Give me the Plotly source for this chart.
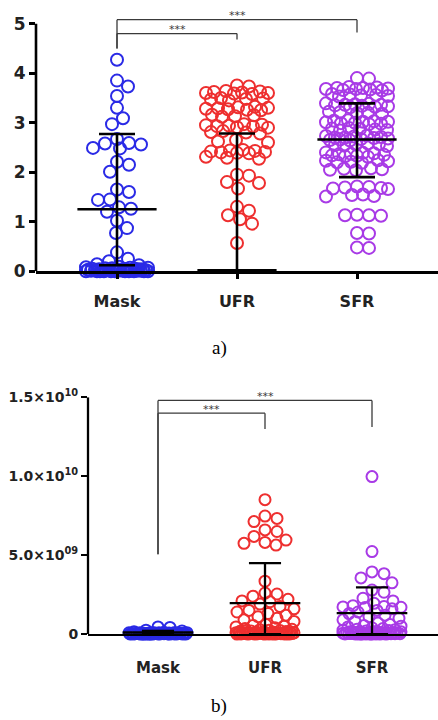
import numpy as np
import plotly.graph_objects as go

W, H = 438, 720

categories = ["Mask", "UFR", "SFR"]
colors = ["#2a2ae6", "#ee2f2f", "#a83ae6"]

# ---------------- panel a) values ----------------
mask_a = [4.27, 3.85, 3.73, 3.54, 3.30, 3.09, 2.97, 2.67, 2.59, 2.58, 2.56, 2.49, 2.48,
          2.21, 2.15, 2.01, 1.65, 1.60, 1.45, 1.44, 1.29, 1.26, 1.20, 1.02, 0.87, 0.77,
          0.38, 0.25, 0.20, 0.14, 0.12, 0.09, 0.08, 0.07, 0.07, 0.06, 0.06, 0.05, 0.05,
          0.05, 0.04, 0.04, 0.04, 0.04, 0.03, 0.03, 0.03, 0.03, 0.03, 0.02, 0.02, 0.02,
          0.02, 0.02, 0.01, 0.01, 0.01, 0.01, 0.01, 0.0, 0.0, 0.0, 0.0, 0.0, 0.0, 0.0,
          0.0, 0.0, 0.0, 0.0]
ufr_a = [3.75, 3.73,
         3.64, 3.63, 3.62, 3.61, 3.60, 3.60, 3.59, 3.58,
         3.50, 3.49, 3.48, 3.47, 3.45,
         3.32, 3.31, 3.30, 3.29, 3.28, 3.27, 3.26, 3.25,
         3.16, 3.15, 3.13, 3.12,
         2.97, 2.96, 2.95, 2.94, 2.93, 2.92, 2.91, 2.90,
         2.83, 2.81, 2.80, 2.78,
         2.65, 2.62, 2.60,
         2.45, 2.44, 2.43, 2.42, 2.41, 2.40, 2.39, 2.38,
         2.31, 2.29, 2.27,
         1.95, 1.93, 1.80, 1.78, 1.67, 1.30, 1.22, 1.13, 1.05, 0.96, 0.57]
sfr_a = [3.90, 3.89,
         3.72, 3.71, 3.70, 3.70, 3.69, 3.68, 3.68, 3.67, 3.66, 3.65,
         3.58, 3.57, 3.56, 3.55, 3.54, 3.53,
         3.39, 3.38, 3.37, 3.36, 3.36, 3.35, 3.34, 3.33, 3.32, 3.31,
         3.22, 3.21, 3.20, 3.19, 3.18,
         3.05, 3.04, 3.03, 3.02, 3.02, 3.01, 3.00, 2.99, 2.98, 2.97,
         2.89, 2.88, 2.87, 2.86, 2.85, 2.84,
         2.74, 2.73, 2.72, 2.71, 2.70, 2.70, 2.69, 2.68, 2.67, 2.66, 2.65, 2.64,
         2.58, 2.57, 2.56, 2.55, 2.54, 2.53,
         2.40, 2.39, 2.38, 2.37, 2.36, 2.35, 2.34, 2.33, 2.32, 2.31,
         2.24, 2.23, 2.22, 2.21, 2.20, 2.19,
         2.08, 2.07, 2.06, 2.05, 2.04,
         1.71, 1.70, 1.69, 1.68, 1.67, 1.66,
         1.55, 1.54, 1.52, 1.51,
         1.14, 1.13, 1.13, 1.12,
         0.77, 0.76,
         0.48, 0.47]
center_a = [1.25, 0.02, 2.66]
upper_a = [2.77, 2.78, 3.39]
lower_a = [0.12, 0.02, 1.90]
yticks_a = [0, 1, 2, 3, 4, 5]
# brackets: (from, to, level, left end, right end)
brackets_a = [(0, 1, 4.80, 4.50, 4.68), (0, 2, 5.08, 4.50, 4.82)]

# ---------------- panel b) values (units of 10^9) ----------------
mask_b = [0.45, 0.42, 0.25, 0.20, 0.15, 0.12, 0.10, 0.10, 0.09, 0.09, 0.08, 0.08, 0.07,
          0.07, 0.06, 0.06, 0.06, 0.05, 0.05, 0.05, 0.04, 0.04, 0.04, 0.04, 0.03, 0.03,
          0.03, 0.03, 0.02, 0.02, 0.02, 0.02, 0.02, 0.01, 0.01, 0.01, 0.01, 0.01, 0.0,
          0.0, 0.0, 0.0, 0.0, 0.0, 0.0, 0.0, 0.0, 0.0]
ufr_b = [8.52, 7.48, 7.33, 7.13, 6.60, 6.50, 6.19, 5.96, 5.81, 5.75, 5.64, 3.35, 2.60,
         2.54, 2.40, 2.20, 2.10, 2.05, 1.90, 1.75, 1.60, 1.50, 1.40, 1.30, 1.20, 1.10,
         1.00, 0.90, 0.80, 0.60, 0.55, 0.50, 0.45, 0.40, 0.35, 0.30, 0.28, 0.25, 0.22,
         0.20, 0.18, 0.16, 0.14, 0.12, 0.11, 0.10, 0.09, 0.09, 0.08, 0.08, 0.07, 0.07,
         0.06, 0.06, 0.05, 0.05, 0.04, 0.04, 0.03, 0.03, 0.03, 0.02, 0.02, 0.02, 0.01,
         0.01, 0.01, 0.0, 0.0, 0.0, 0.0, 0.0, 0.0, 0.0]
sfr_b = [9.98, 5.23, 3.94, 3.83, 3.56, 3.25, 2.79, 2.65, 2.27, 2.10, 1.95, 1.80, 1.75,
         1.72, 1.70, 1.68, 1.60, 1.50, 1.40, 1.30, 1.20, 1.10, 1.00, 0.90, 0.80, 0.70,
         0.60, 0.55, 0.50, 0.45, 0.40, 0.35, 0.30, 0.28, 0.25, 0.22, 0.20, 0.18, 0.16,
         0.14, 0.12, 0.11, 0.10, 0.09, 0.09, 0.08, 0.08, 0.07, 0.07, 0.06, 0.06, 0.05,
         0.05, 0.04, 0.04, 0.03, 0.03, 0.03, 0.02, 0.02, 0.02, 0.01, 0.01, 0.01, 0.0,
         0.0, 0.0, 0.0, 0.0, 0.0, 0.0]
center_b = [0.10, 1.96, 1.33]
upper_b = [0.20, 4.50, 2.96]
lower_b = [0.0, 0.0, 0.0]
yticks_b = [0, 5, 10, 15]
yticktext_b = ["0", "5.0×10<sup>09</sup>", "1.0×10<sup>10</sup>", "1.5×10<sup>10</sup>"]
brackets_b = [(0, 1, 14.0, 5.06, 13.0), (0, 2, 14.81, 5.06, 13.12)]

# ---------------- layout geometry (pixels) ----------------
PA = dict(left=36, right=438, cat0=117, cat2=357, zero=275, ppu=50.2, ymax=5.4, axtop=5)
PB = dict(left=88, right=438, cat0=158, cat2=372, zero=643, ppu=16.0, ymax=15.6, axtop=15)


def swarm(vals, sx, sy, dmin, maxw):
    vals = np.asarray(vals, dtype=float)
    order = np.argsort(-vals, kind="stable")
    cands = [0.0]
    for k in np.arange(1, maxw + 0.01, 1.0):
        cands += [k, -k]
    cands = np.array(cands)
    px, py = [], []
    offs = np.zeros(len(vals))
    for i in order:
        y = vals[i] * sy
        if px:
            P = np.array(px)[None, :]
            Q = np.array(py)[None, :]
            d = np.sqrt((cands[:, None] - P) ** 2 + (y - Q) ** 2).min(axis=1)
            ok = np.where(d >= dmin)[0]
            if len(ok):
                c = cands[ok[0]]
            else:
                c = cands[int(np.argmax(d))]
        else:
            c = 0.0
        offs[i] = c / sx
        px.append(c)
        py.append(y)
    return offs


fig = go.Figure()
layout = dict(width=W, height=H, margin=dict(l=0, r=0, t=0, b=0),
              paper_bgcolor="white", plot_bgcolor="white", showlegend=False)
shapes, annotations = [], []

panels = [
    ("x", "y", PA, [mask_a, ufr_a, sfr_a], center_a, upper_a, lower_a, brackets_a,
     yticks_a, [str(v) for v in yticks_a], 17, 16, 2.6, True, 12, 9, 31),
    ("x2", "y2", PB, [mask_b, ufr_b, sfr_b], center_b, upper_b, lower_b, brackets_b,
     yticks_b, yticktext_b, 14, 15, 2.3, False, 11, 19, 29),
]

for (xa, ya, G, groups, cen, up, lo, brs, yt, ytt, yfs, xfs, lw, xticks, msize,
     standoff, maxw) in panels:
    sx = (G["cat2"] - G["cat0"]) / 2.0
    for i, vals in enumerate(groups):
        offs = swarm(vals, sx, G["ppu"], 12.0, maxw)
        fig.add_trace(go.Scatter(
            x=i + offs, y=vals, xaxis=xa, yaxis=ya, mode="markers", cliponaxis=False,
            marker=dict(symbol="circle-open", size=msize, color=colors[i],
                        line=dict(width=2, color=colors[i])),
            hoverinfo="skip"))
    # mean / SD lines
    for i in range(3):
        ex = [i - 0.33, i + 0.33, None, i - 0.15, i + 0.15, None, i, i, None,
              i - 0.15, i + 0.15]
        ey = [cen[i], cen[i], None, up[i], up[i], None, up[i], lo[i], None, lo[i], lo[i]]
        fig.add_trace(go.Scatter(x=ex, y=ey, xaxis=xa, yaxis=ya, mode="lines",
                                 line=dict(color="black", width=lw), hoverinfo="skip",
                                 cliponaxis=False))
    # brackets
    for (a, b, lev, le, re) in brs:
        for (x0, y0, x1, y1) in [(a, lev, b, lev), (a, lev, a, le), (b, lev, b, re)]:
            shapes.append(dict(type="line", xref=xa, yref=ya, x0=x0, x1=x1, y0=y0, y1=y1,
                               line=dict(color="#3a3a3a", width=1.3)))
        annotations.append(dict(text="***", xref=xa, yref=ya, x=(a + b) / 2, y=lev,
                                showarrow=False, yanchor="middle", yshift=4,
                                font=dict(size=11, color="#3a3a3a",
                                          family="DejaVu Sans")))
    # y axis line only up to top tick
    shapes.append(dict(type="line", xref="paper", yref=ya, x0=G["left"] / W,
                       x1=G["left"] / W, y0=0, y1=G["axtop"],
                       line=dict(color="black", width=lw)))
    xr = [(G["left"] - G["cat0"]) / sx, (G["right"] - G["cat0"]) / sx]
    ytop = G["zero"] - G["ymax"] * G["ppu"]
    xkey = "xaxis" if xa == "x" else "xaxis2"
    ykey = "yaxis" if ya == "y" else "yaxis2"
    layout[xkey] = dict(domain=[G["left"] / W, G["right"] / W], range=xr, anchor=ya,
                        tickmode="array", tickvals=[0, 1, 2], ticktext=categories,
                        showline=True, linecolor="black", linewidth=lw,
                        ticks="outside" if xticks else "", ticklen=5, tickwidth=lw,
                        tickcolor="black", showgrid=False, zeroline=False,
                        ticklabelstandoff=standoff,
                        tickfont=dict(family="DejaVu Sans", size=xfs, color="#222",
                                      weight="bold"))
    layout[ykey] = dict(domain=[1 - G["zero"] / H, 1 - ytop / H], range=[0, G["ymax"]],
                        anchor=xa, tickmode="array", tickvals=yt, ticktext=ytt,
                        showline=False, ticks="outside", ticklen=6, tickwidth=lw,
                        tickcolor="black", showgrid=False, zeroline=False,
                        tickfont=dict(family="DejaVu Sans", size=yfs, color="#222",
                                      weight="bold"))

annotations.append(dict(text="a)", xref="paper", yref="paper", x=219 / W, y=1 - 353 / H,
                        xanchor="center", yanchor="middle", showarrow=False,
                        font=dict(family="Liberation Serif", size=19, color="black")))
annotations.append(dict(text="b)", xref="paper", yref="paper", x=219 / W, y=1 - 716 / H,
                        xanchor="center", yanchor="middle", showarrow=False,
                        font=dict(family="Liberation Serif", size=19, color="black")))
layout["shapes"] = shapes
layout["annotations"] = annotations
fig.update_layout(**layout)
fig.write_html("out.html")
